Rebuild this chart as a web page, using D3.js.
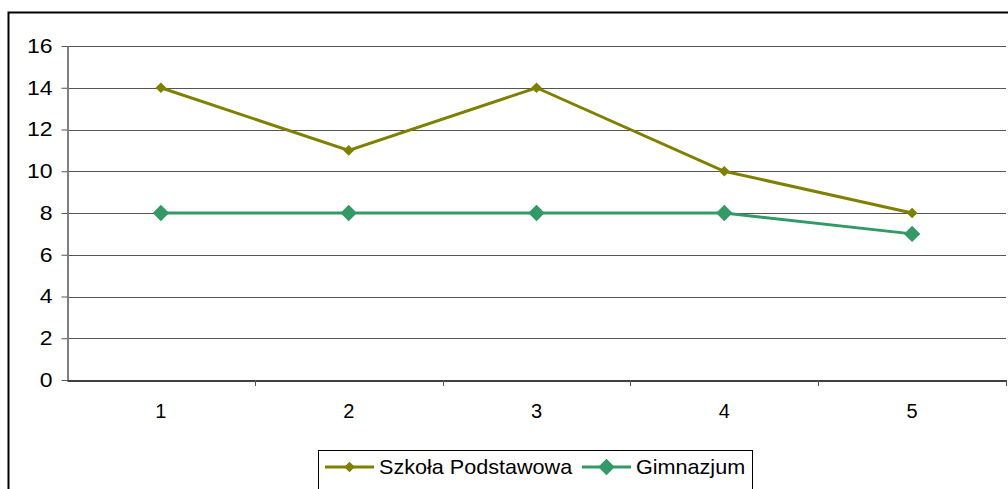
<!DOCTYPE html>
<html>
<head>
<meta charset="utf-8">
<script src="https://cdn.jsdelivr.net/npm/d3@7"></script>
<style>
  body { margin: 0; background: #fff; }
  text { font-family: "Liberation Sans", Arial, sans-serif; }
</style>
</head>
<body>
<script>
// dane
var categories = ["1", "2", "3", "4", "5"];
var szkolaPodstawowa = [14, 11, 14, 10, 8];
var gimnazjum = [8, 8, 8, 8, 7];
var yTicks = [0, 2, 4, 6, 8, 10, 12, 14, 16];

var series = [
  { name: "Szkoła Podstawowa", values: szkolaPodstawowa, color: "#808000", marker: 7.5 },
  { name: "Gimnazjum", values: gimnazjum, color: "#339966", marker: 11.5 }
];

const W = 1008, H = 489;
const margin = { top: 46, right: 2, bottom: 109, left: 67 };
const width = W - margin.left - margin.right;
const height = H - margin.top - margin.bottom;

const root = d3.select("body").append("svg")
  .attr("width", W).attr("height", H);

// ramka wykresu
root.append("rect")
  .attr("x", 8.5).attr("y", 12.5)
  .attr("width", 1010).attr("height", 500)
  .attr("fill", "none").attr("stroke", "#000").attr("stroke-width", 2);

const svg = root.append("g")
  .attr("transform", `translate(${margin.left}, ${margin.top})`);

const x = d3.scaleBand().domain(categories).range([0, width]);
const y = d3.scaleLinear().domain([0, 16]).range([height, 0]);

// linie siatki
svg.selectAll(".grid")
  .data(yTicks.filter(d => d > 0))
  .enter().append("line")
  .attr("x1", 0).attr("x2", width)
  .attr("y1", d => Math.round(y(d)) + 0.5).attr("y2", d => Math.round(y(d)) + 0.5)
  .attr("stroke", "#555").attr("stroke-width", 1);

// oś Y
const yAxis = svg.append("g")
  .attr("transform", "translate(0.5,0)")
  .call(d3.axisLeft(y).tickValues(yTicks).tickSize(6).tickSizeOuter(0));
yAxis.select(".domain").attr("stroke", "#808080").attr("stroke-width", 2);
yAxis.selectAll(".tick line").attr("stroke", "#555");
yAxis.selectAll("text").attr("font-size", 20).attr("fill", "#000")
  .attr("x", 0)
  .attr("transform", "translate(-15,0) scale(1.15,1)");

// oś X
const xAxis = svg.append("g")
  .attr("transform", `translate(0, ${Math.round(height) + 0.5})`)
  .call(d3.axisBottom(x).tickSize(0).tickPadding(23));
xAxis.select(".domain").attr("stroke", "#000").attr("stroke-width", 1.5);
xAxis.selectAll("text").attr("font-size", 20).attr("fill", "#000");

// znaczniki między kategoriami
svg.selectAll(".xtick")
  .data(categories)
  .enter().append("line")
  .attr("x1", d => Math.round(x(d) + x.bandwidth()) + 0.5)
  .attr("x2", d => Math.round(x(d) + x.bandwidth()) + 0.5)
  .attr("y1", height).attr("y2", height + 6)
  .attr("stroke", "#555");

const line = d3.line()
  .x((d, i) => x(categories[i]) + x.bandwidth() / 2)
  .y(d => y(d));

function diamond(r) {
  return `M0,${-r}L${r},0L0,${r}L${-r},0Z`;
}

series.forEach(s => {
  svg.append("path")
    .datum(s.values)
    .attr("d", line)
    .attr("fill", "none")
    .attr("stroke", s.color)
    .attr("stroke-width", 3);

  svg.selectAll(null)
    .data(s.values)
    .enter().append("path")
    .attr("d", diamond(s.marker / 1.4))
    .attr("transform", (d, i) => `translate(${x(categories[i]) + x.bandwidth() / 2}, ${y(d)})`)
    .attr("fill", s.color);
});

// legenda
const legend = root.append("g");
legend.append("rect")
  .attr("x", 318.5).attr("y", 450.5)
  .attr("width", 434).attr("height", 50)
  .attr("fill", "#fff").attr("stroke", "#000").attr("stroke-width", 1);

const legendPos = [325, 582];
series.forEach((s, i) => {
  const lx = legendPos[i];
  const ly = 467;
  legend.append("line")
    .attr("x1", lx).attr("x2", lx + 49)
    .attr("y1", ly).attr("y2", ly)
    .attr("stroke", s.color).attr("stroke-width", 3);
  legend.append("path")
    .attr("d", diamond(s.marker / 1.4))
    .attr("transform", `translate(${lx + 24.5}, ${ly})`)
    .attr("fill", s.color);
  legend.append("text")
    .attr("transform", `translate(${lx + 54}, ${ly}) scale(1.08,1)`)
    .attr("dy", "0.35em")
    .attr("font-size", 20)
    .text(s.name);
});
</script>
</body>
</html>
